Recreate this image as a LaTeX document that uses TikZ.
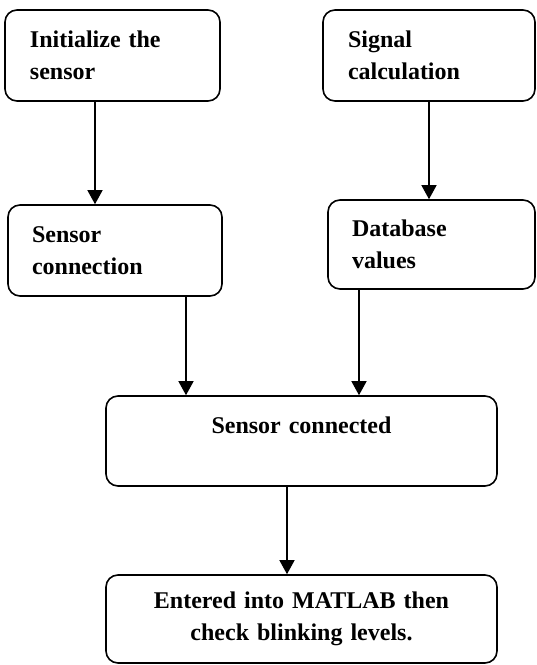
\documentclass[tikz,border=0pt]{standalone}
\usepackage{fontspec}
\setmainfont{Liberation Serif}
\usetikzlibrary{arrows.meta}
\begin{document}
\begin{tikzpicture}[x=1pt,y=-1pt,
  box/.style={draw, line width=1.6pt, rounded corners=12pt, inner xsep=0pt, inner ysep=0pt,
    font=\fontsize{24}{32}\selectfont\bfseries},
  leftbox/.style={box, align=left},
  centbox/.style={box, align=center},
  arr/.style={line width=1.4pt, -{Triangle[width=15pt,length=14pt]}}]
\useasboundingbox (0,0) rectangle (537,665);
\node[leftbox, minimum width=215pt, minimum height=91pt, text width=165pt] (b1) at (112.5,55.5) {Initialize the\\sensor};
\node[leftbox, minimum width=214pt, minimum height=91pt, text width=166pt] (b2) at (115,250.5) {Sensor\\connection};
\node[leftbox, minimum width=212pt, minimum height=91pt, text width=162pt] (b3) at (429,55.5) {Signal\\calculation};
\node[leftbox, minimum width=207pt, minimum height=89pt, text width=159pt] (b4) at (431.5,244.5) {Database\\values};
\node[centbox, minimum width=391pt, minimum height=90pt, text width=391pt] (b5) at (301.5,441) {Sensor connected\\\mbox{}};
\node[centbox, minimum width=391pt, minimum height=88pt, text width=391pt] (b6) at (301.5,619) {Entered into MATLAB then\\check blinking levels.};
\coordinate (c1) at (95,0);
\coordinate (c2) at (429,0);
\coordinate (c3) at (186,0);
\coordinate (c4) at (359,0);
\coordinate (c5) at (287,0);
\draw[arr] (c1 |- b1.south) -- (c1 |- b2.north);
\draw[arr] (c2 |- b3.south) -- (c2 |- b4.north);
\draw[arr] (c3 |- b2.south) -- (c3 |- b5.north);
\draw[arr] (c4 |- b4.south) -- (c4 |- b5.north);
\draw[arr] (c5 |- b5.south) -- (c5 |- b6.north);
\end{tikzpicture}
\end{document}
